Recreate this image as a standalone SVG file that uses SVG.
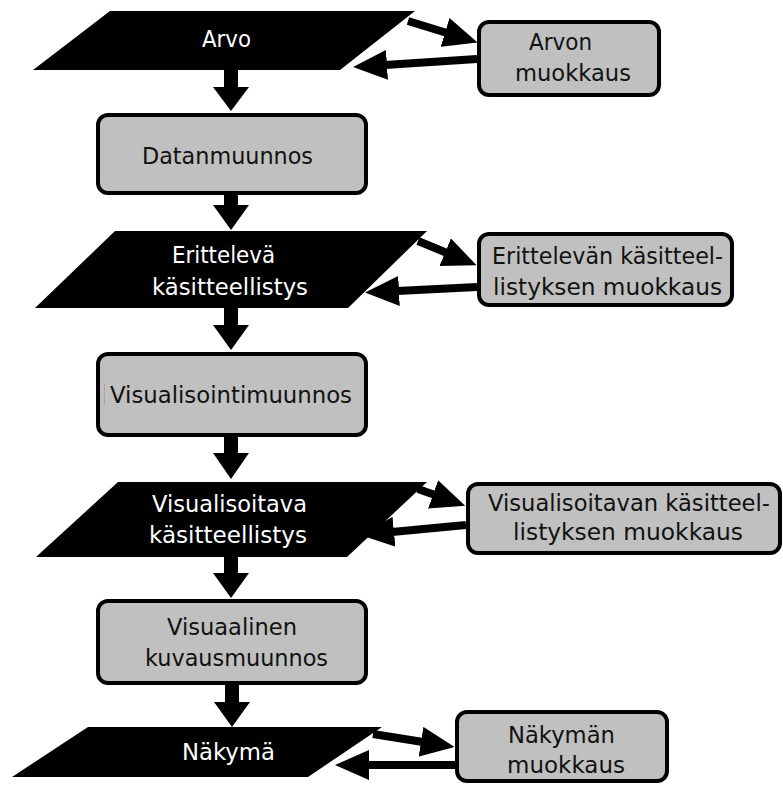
<svg xmlns="http://www.w3.org/2000/svg" width="783" height="785" viewBox="0 0 783 785">
  <style>
    .data { fill: #000; }
    .proc { fill: #c0c0c0; stroke: #000; stroke-width: 4; }
    .lbl { font-family: "DejaVu Sans", "Liberation Sans", sans-serif; font-size: 23px; }
    .on-dark { fill: #fff; }
    .on-grey { fill: #111; }
    .flow { fill: #000; }
    .edit { stroke: #000; stroke-width: 8; fill: none; marker-end: url(#head); }
  </style>
  <defs>
    <marker id="head" markerUnits="userSpaceOnUse" markerWidth="34" markerHeight="30" refX="2" refY="15" orient="auto" viewBox="0 0 34 30">
      <path d="M0,0 L34,15 L0,30 Z" fill="#000"/>
    </marker>
  </defs>
  <rect width="783" height="785" fill="#fff"/>

  <!-- main vertical flow arrows -->
  <g id="connectors">
    <polygon class="flow" points="224,70 238,70 238,87 249,87 231,111 213,87 224,87"/>
    <polygon class="flow" points="224,195 238,195 238,205 249,205 231,230 213,205 224,205"/>
    <polygon class="flow" points="224,308 238,308 238,325 249,325 231,350 213,325 224,325"/>
    <polygon class="flow" points="224,437 238,437 238,453 249,453 231,479 213,453 224,453"/>
    <polygon class="flow" points="224,557 238,557 238,573 249,573 231,598 213,573 224,573"/>
    <polygon class="flow" points="225,685 239,685 239,702 250,702 232,727 214,702 225,702"/>

    <!-- edit loops -->
    <line class="edit" x1="408" y1="21" x2="447" y2="33"/>
    <line class="edit" x1="477" y1="59" x2="385" y2="65"/>

    <line class="edit" x1="418" y1="241" x2="447" y2="253"/>
    <line class="edit" x1="477" y1="287" x2="397" y2="291"/>

    <line class="edit" x1="418" y1="489" x2="435" y2="495"/>
    <line class="edit" x1="466" y1="525" x2="392" y2="532"/>

    <line class="edit" x1="373" y1="734" x2="423" y2="742"/>
    <line class="edit" x1="455" y1="765" x2="367" y2="765"/>
  </g>

  <g id="arvo">
    <polygon class="data" points="110,11 415,11 340,70 33,70"/>
    <text class="lbl on-dark" x="202" y="47" textLength="49" lengthAdjust="spacingAndGlyphs">Arvo</text>
  </g>

  <g id="arvon-muokkaus">
    <rect class="proc" x="479" y="22" width="180" height="73" rx="10"/>
    <text class="lbl on-grey" x="529" y="50" textLength="63" lengthAdjust="spacingAndGlyphs">Arvon</text>
    <text class="lbl on-grey" x="515" y="81" textLength="116" lengthAdjust="spacingAndGlyphs">muokkaus</text>
  </g>

  <g id="datanmuunnos">
    <rect class="proc" x="98" y="115" width="268" height="78" rx="10"/>
    <text class="lbl on-grey" x="142" y="164" textLength="171" lengthAdjust="spacingAndGlyphs">Datanmuunnos</text>
  </g>

  <g id="eritteleva">
    <polygon class="data" points="115,231 427,231 348,308 35,308"/>
    <text class="lbl on-dark" x="172" y="263" textLength="103" lengthAdjust="spacingAndGlyphs">Erittelevä</text>
    <text class="lbl on-dark" x="152" y="295" textLength="156" lengthAdjust="spacingAndGlyphs">käsitteellistys</text>
  </g>

  <g id="eritteleva-muokkaus">
    <rect class="proc" x="479" y="234" width="253" height="71" rx="10"/>
    <text class="lbl on-grey" x="492" y="264" textLength="231" lengthAdjust="spacingAndGlyphs">Erittelevän käsitteel-</text>
    <text class="lbl on-grey" x="493" y="295" textLength="229" lengthAdjust="spacingAndGlyphs">listyksen muokkaus</text>
  </g>

  <g id="visualisointimuunnos">
    <rect class="proc" x="98" y="354" width="268" height="81" rx="10"/>
    <line x1="104.5" y1="384" x2="104.5" y2="405" stroke="#a8a8a8" stroke-width="1"/>
    <text class="lbl on-grey" x="110" y="403" textLength="242" lengthAdjust="spacingAndGlyphs">Visualisointimuunnos</text>
  </g>

  <g id="visualisoitava">
    <polygon class="data" points="118,482 427,482 347,557 36,557"/>
    <text class="lbl on-dark" x="152" y="512" textLength="155" lengthAdjust="spacingAndGlyphs">Visualisoitava</text>
    <text class="lbl on-dark" x="149" y="543" textLength="158" lengthAdjust="spacingAndGlyphs">käsitteellistys</text>
  </g>

  <g id="visualisoitava-muokkaus">
    <rect class="proc" x="468" y="484" width="312" height="69" rx="10"/>
    <text class="lbl on-grey" x="488" y="511" textLength="282" lengthAdjust="spacingAndGlyphs">Visualisoitavan käsitteel-</text>
    <text class="lbl on-grey" x="513" y="540" textLength="230" lengthAdjust="spacingAndGlyphs">listyksen muokkaus</text>
  </g>

  <g id="kuvausmuunnos">
    <rect class="proc" x="98" y="601" width="268" height="82" rx="10"/>
    <text class="lbl on-grey" x="167" y="635" textLength="130" lengthAdjust="spacingAndGlyphs">Visuaalinen</text>
    <text class="lbl on-grey" x="145" y="666" textLength="183" lengthAdjust="spacingAndGlyphs">kuvausmuunnos</text>
  </g>

  <g id="nakyma">
    <polygon class="data" points="88,727 382,727 308,777 12,777"/>
    <text class="lbl on-dark" x="182" y="760" textLength="93" lengthAdjust="spacingAndGlyphs">Näkymä</text>
  </g>

  <g id="nakyma-muokkaus">
    <rect class="proc" x="457" y="712" width="210" height="69" rx="10"/>
    <text class="lbl on-grey" x="508" y="743" textLength="107" lengthAdjust="spacingAndGlyphs">Näkymän</text>
    <text class="lbl on-grey" x="507" y="773" textLength="118" lengthAdjust="spacingAndGlyphs">muokkaus</text>
  </g>
</svg>
